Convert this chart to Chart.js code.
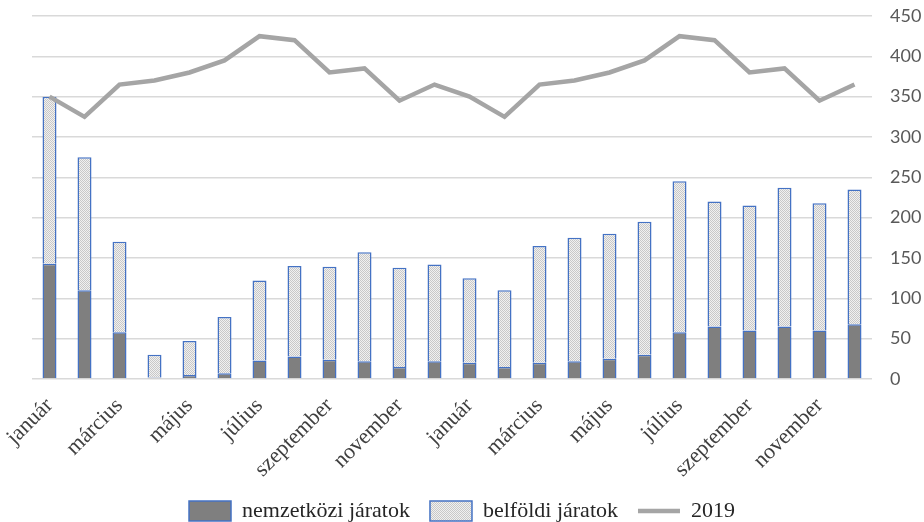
<!DOCTYPE html>
<html>
<head>
<meta charset="utf-8">
<script src="https://cdn.jsdelivr.net/npm/chart.js@4/dist/chart.umd.min.js"></script>
<style>
  html, body { margin: 0; padding: 0; background: #fff; }
  #wrap { width: 924px; height: 522px; }
</style>
</head>
<body>
<div id="wrap"><canvas id="flightsChart"></canvas></div>
<script>
// Monthly flights, two years side by side
const months = ['január', 'február', 'március', 'április', 'május', 'június',
    'július', 'augusztus', 'szeptember', 'október', 'november', 'december'];
const categories = months.concat(months);

const nemzetkozi = [143, 110, 58, 2, 5, 7, 23, 28, 24, 22, 15, 22,
    20, 15, 20, 22, 25, 30, 58, 65, 60, 65, 60, 68];
const belfoldi = [207, 165, 112, 28, 42, 70, 99, 112, 115, 135, 123, 120,
    105, 95, 145, 153, 155, 165, 187, 155, 155, 172, 158, 167];
const ref2019 = [350, 325, 365, 370, 380, 395, 425, 420, 380, 385, 345, 365,
    350, 325, 365, 370, 380, 395, 425, 420, 380, 385, 345, 365];

const yTicks = [0, 50, 100, 150, 200, 250, 300, 350, 400, 450];

// Fine dotted fill for the domestic series
function makeHatch() {
    const c = document.createElement('canvas');
    c.width = 2;
    c.height = 2;
    const g = c.getContext('2d');
    g.fillStyle = '#f0f0f0';
    g.fillRect(0, 0, 2, 2);
    g.fillStyle = '#c8c8c8';
    g.fillRect(0, 0, 1, 1);
    g.fillRect(1, 1, 1, 1);
    return g.createPattern(c, 'repeat');
}

const ctx = document.getElementById('flightsChart').getContext('2d');
const hatch = makeHatch();

new Chart(ctx, {
    type: 'bar',
    data: {
        labels: categories,
        datasets: [{
            label: 'nemzetközi járatok',
            data: nemzetkozi,
            backgroundColor: '#7f7f7f',
            borderColor: '#4472c4',
            borderWidth: 1.5,
            barPercentage: 0.4,
            categoryPercentage: 1,
            stack: 'flights',
            order: 1,
            pointStyle: 'rect'
        }, {
            label: 'belföldi járatok',
            data: belfoldi,
            backgroundColor: hatch,
            borderColor: '#4472c4',
            borderWidth: 1.5,
            barPercentage: 0.4,
            categoryPercentage: 1,
            stack: 'flights',
            order: 1,
            pointStyle: 'rect'
        }, {
            type: 'line',
            label: '2019',
            data: ref2019,
            borderColor: '#a5a5a5',
            backgroundColor: '#a5a5a5',
            borderWidth: 4.5,
            pointRadius: 0,
            tension: 0,
            order: 0,
            pointStyle: 'line'
        }]
    },
    options: {
        responsive: true,
        maintainAspectRatio: false,
        animation: false,
        layout: {
            padding: { top: 16, right: 0, left: 0, bottom: -10 }
        },
        scales: {
            x: {
                stacked: true,
                grid: { display: false },
                border: { display: false },
                afterFit: function(axis) {
                    axis.paddingLeft = 32;
                    axis.paddingRight = 0;
                    axis.height = 101;
                },
                ticks: {
                    autoSkip: false,
                    maxRotation: 45,
                    minRotation: 45,
                    padding: 6,
                    color: '#404040',
                    font: { family: 'Liberation Serif', size: 22 },
                    // every other month is labelled
                    callback: function(value, index) {
                        return index % 2 === 0 ? this.getLabelForValue(value) : '';
                    }
                }
            },
            y: {
                stacked: true,
                position: 'right',
                min: 0,
                max: 450,
                afterBuildTicks: function(axis) {
                    axis.ticks = yTicks.map(v => ({ value: v }));
                },
                afterFit: function(axis) {
                    axis.width = 52;
                    axis.paddingTop = 0;
                    axis.paddingBottom = 0;
                },
                grid: {
                    color: '#d9d9d9',
                    lineWidth: 1.5,
                    drawTicks: false
                },
                border: { display: false },
                ticks: {
                    padding: 18,
                    color: '#595959',
                    font: { family: 'Lato', size: 18 }
                }
            }
        },
        plugins: {
            legend: {
                position: 'bottom',
                labels: {
                    usePointStyle: true,
                    pointStyleWidth: 42,
                    boxHeight: 20,
                    padding: 20,
                    color: '#262626',
                    font: { family: 'Liberation Serif', size: 22 },
                    sort: (a, b) => a.datasetIndex - b.datasetIndex
                }
            },
            tooltip: { enabled: false }
        }
    }
});
</script>
</body>
</html>
